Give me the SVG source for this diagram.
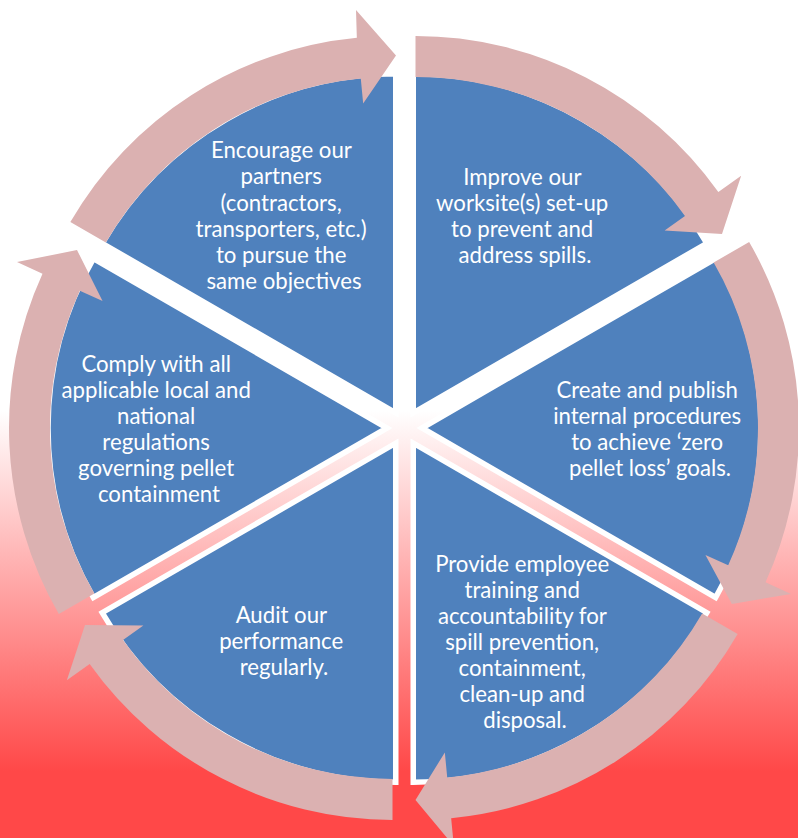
<svg xmlns="http://www.w3.org/2000/svg" width="798" height="838" viewBox="0 0 798 838">
  <defs>
    <linearGradient id="bg" gradientUnits="userSpaceOnUse" x1="0" y1="0" x2="0" y2="838">
      <stop offset="0" stop-color="#FFFFFF"/>
      <stop offset="0.49" stop-color="#FFFFFF"/>
      <stop offset="0.92" stop-color="#FF4848"/>
      <stop offset="1" stop-color="#FF4848"/>
    </linearGradient>
  </defs>
  <style>
    .slice { fill: #4F81BD; stroke: #FFFFFF; stroke-width: 5.5; stroke-linejoin: miter; }
    .arrow { fill: #DBB1B1; stroke: none; }
    .label { font-family: Lato, "Liberation Sans", sans-serif; font-size: 22.2px; fill: #FFFFFF; text-anchor: middle; }
  </style>
  <rect x="0" y="0" width="798" height="838" fill="url(#bg)"/>

  <g id="node-top-right">
    <path class="slice" d="M413.25 412.84 L413.25 73.84 A339 339 0 0 1 706.83 243.34 Z"/>
    <text class="label" x="525" y="185">
      <tspan x="525" y="185">Improve our</tspan>
      <tspan x="525" y="211">worksite(s) set-up</tspan>
      <tspan x="525" y="237">to prevent and</tspan>
      <tspan x="525" y="263">address spills.</tspan>
    </text>
  </g>

  <g id="node-right">
    <path class="slice" d="M422 428 L715.58 258.5 A339 339 0 0 1 715.58 597.5 Z"/>
    <text class="label" x="650" y="398">
      <tspan x="650" y="398">Create and publish</tspan>
      <tspan x="650" y="424">internal procedures</tspan>
      <tspan x="650" y="450">to achieve ‘zero</tspan>
      <tspan x="650" y="476">pellet loss’ goals.</tspan>
    </text>
  </g>

  <g id="node-bottom-right">
    <path class="slice" d="M413.25 443.16 L706.83 612.66 A339 339 0 0 1 413.25 782.16 Z"/>
    <text class="label" x="525" y="572">
      <tspan x="525" y="572">Provide employee</tspan>
      <tspan x="525" y="598">training and</tspan>
      <tspan x="525" y="624">accountability for</tspan>
      <tspan x="525" y="650">spill prevention,</tspan>
      <tspan x="525" y="676">containment,</tspan>
      <tspan x="525" y="702">clean-up and</tspan>
      <tspan x="525" y="728">disposal.</tspan>
    </text>
  </g>

  <g id="node-bottom-left">
    <path class="slice" d="M395.75 443.16 L395.75 782.16 A339 339 0 0 1 102.17 612.66 Z"/>
    <text class="label" x="284" y="623">
      <tspan x="284" y="623">Audit our</tspan>
      <tspan x="284" y="649">performance</tspan>
      <tspan x="284" y="675">regularly.</tspan>
    </text>
  </g>

  <g id="node-left">
    <path class="slice" d="M387 428 L93.42 597.5 A339 339 0 0 1 93.42 258.5 Z"/>
    <text class="label" x="159" y="372">
      <tspan x="159" y="372">Comply with all</tspan>
      <tspan x="159" y="398">applicable local and</tspan>
      <tspan x="159" y="424">national</tspan>
      <tspan x="159" y="450">regulations</tspan>
      <tspan x="159" y="476">governing pellet</tspan>
      <tspan x="159" y="502">containment</tspan>
    </text>
  </g>

  <g id="node-top-left">
    <path class="slice" d="M395.75 412.84 L102.17 243.34 A339 339 0 0 1 395.75 73.84 Z"/>
    <text class="label" x="284" y="158">
      <tspan x="284" y="158">Encourage our</tspan>
      <tspan x="284" y="184">partners</tspan>
      <tspan x="284" y="211">(contractors,</tspan>
      <tspan x="284" y="237">transporters, etc.)</tspan>
      <tspan x="284" y="263">to pursue the</tspan>
      <tspan x="284" y="289">same objectives</tspan>
    </text>
  </g>

  <g id="connectors">
    <path class="arrow" d="M415.5 36.1 A372 372 0 0 1 718.35 192.08 L741.15 175.82 L722 234 L664.62 230.41 L684.97 215.89 A331 331 0 0 0 415.5 77.1 Z"/>
    <path class="arrow" d="M749.15 242 A372 372 0 0 1 765.51 582.26 L791 593.88 L731.84 604 L705.45 554.9 L728.2 565.26 A331 331 0 0 0 713.65 262.5 Z"/>
    <path class="arrow" d="M737.65 633.9 A372 372 0 0 1 451.16 818.19 L453.84 846.06 L415.5 799.9 L444.83 752.49 L447.23 777.38 A331 331 0 0 0 702.15 613.4 Z"/>
    <path class="arrow" d="M392.5 819.9 A372 372 0 0 1 89.65 663.92 L66.85 680.18 L85 625 L143.38 625.59 L123.03 640.11 A331 331 0 0 0 392.5 778.9 Z"/>
    <path class="arrow" d="M58.85 614 A372 372 0 0 1 42.49 273.74 L17 262.12 L77 250 L102.55 301.1 L79.8 290.74 A331 331 0 0 0 94.35 593.5 Z"/>
    <path class="arrow" d="M70.35 222.1 A372 372 0 0 1 356.84 37.81 L356 9.94 L396 55.5 L363.17 103.51 L360.77 78.62 A331 331 0 0 0 105.85 242.6 Z"/>
  </g>
</svg>
